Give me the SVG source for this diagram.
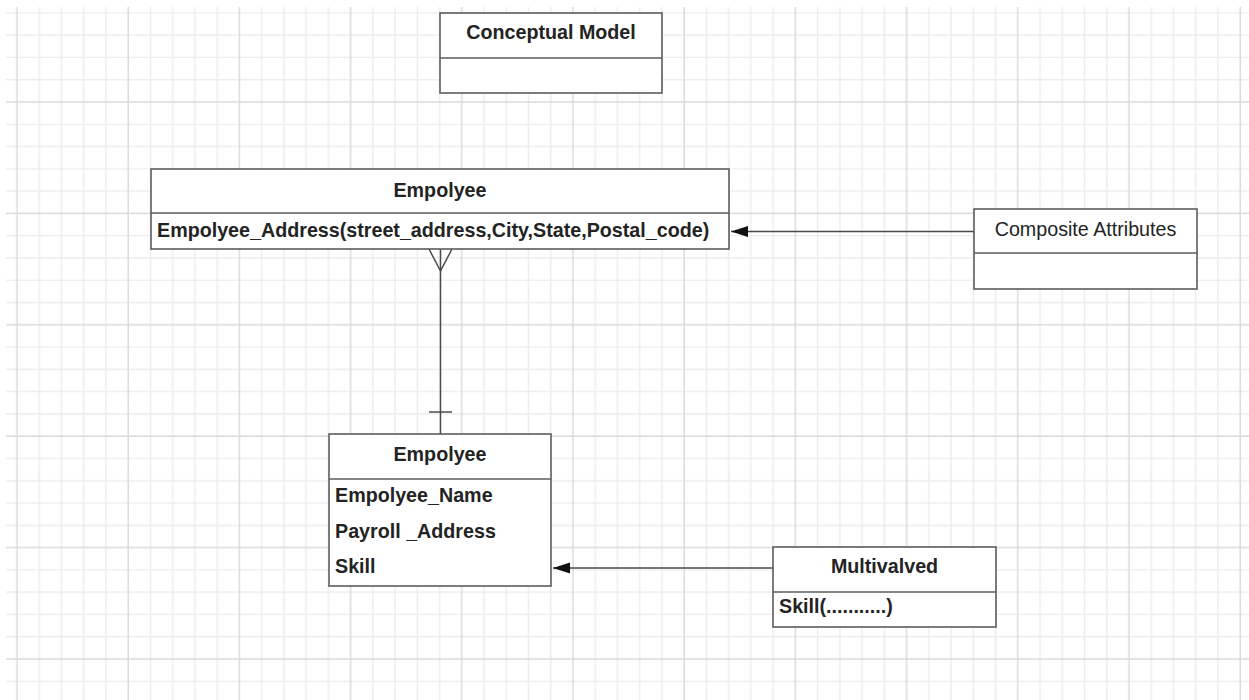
<svg xmlns="http://www.w3.org/2000/svg" width="1249" height="700" viewBox="0 0 1249 700">
  <style>
    .box { fill: #ffffff; stroke: #5c5c5c; stroke-width: 1.6; }
    .sep { stroke: #5c5c5c; stroke-width: 1.6; }
    .t { font-family: "Liberation Sans", Arial, sans-serif; font-size: 19.7px; fill: #232323; }
    .b { font-weight: bold; }
    .c { text-anchor: middle; }
    .edge { fill: none; stroke: #4a4a4a; stroke-width: 1.5; }
  </style>
  <defs>
    <!-- background grid: minor every 22.24/22.28 px, major every 5 cells -->
    <pattern id="grid" patternUnits="userSpaceOnUse" x="5.88" y="90.86" width="111.2" height="111.4">
      <g stroke="#ececec" stroke-width="1.4">
        <line x1="33.36" y1="0" x2="33.36" y2="111.4"/>
        <line x1="55.6" y1="0" x2="55.6" y2="111.4"/>
        <line x1="77.84" y1="0" x2="77.84" y2="111.4"/>
        <line x1="100.08" y1="0" x2="100.08" y2="111.4"/>
        <line x1="0" y1="33.42" x2="111.2" y2="33.42"/>
        <line x1="0" y1="55.7" x2="111.2" y2="55.7"/>
        <line x1="0" y1="77.98" x2="111.2" y2="77.98"/>
        <line x1="0" y1="100.26" x2="111.2" y2="100.26"/>
      </g>
      <g stroke="#d9d9d9" stroke-width="1.4">
        <line x1="11.12" y1="0" x2="11.12" y2="111.4"/>
        <line x1="0" y1="11.14" x2="111.2" y2="11.14"/>
      </g>
    </pattern>
    <marker id="arrow" markerUnits="userSpaceOnUse" markerWidth="20" markerHeight="14" viewBox="0 -7 20 14" refX="17" refY="0" orient="auto">
      <path d="M0,-5.5 L17,0 L0,5.5 z" fill="#111111"/>
    </marker>
  </defs>

  <rect x="0" y="0" width="1249" height="700" fill="#ffffff"/>
  <rect x="6" y="7" width="1243" height="693" fill="url(#grid)"/>

  <g id="connectors">
    <!-- composite attributes -> employee address -->
    <line class="edge" x1="974" y1="231.5" x2="731" y2="231.5" marker-end="url(#arrow)"/>
    <!-- multivalued -> skill -->
    <line class="edge" x1="773" y1="568" x2="553" y2="568" marker-end="url(#arrow)"/>
    <!-- one-to-many relationship between the two Empolyee entities -->
    <line class="edge" x1="440.5" y1="249" x2="440.5" y2="434"/>
    <path class="edge" d="M429,249 L440.5,271 L452,249"/>
    <line class="edge" x1="429" y1="412" x2="452" y2="412"/>
  </g>

  <g id="conceptual-model">
    <rect class="box" x="440" y="13" width="222" height="80"/>
    <line class="sep" x1="440" y1="58" x2="662" y2="58"/>
    <text class="t b c" x="551" y="39">Conceptual Model</text>
  </g>

  <g id="employee-address">
    <rect class="box" x="151" y="169" width="578" height="80"/>
    <line class="sep" x1="151" y1="213" x2="729" y2="213"/>
    <text class="t b c" x="440" y="197">Empolyee</text>
    <text class="t b" x="157" y="237">Empolyee_Address(street_address,City,State,Postal_code)</text>
  </g>

  <g id="composite-attributes">
    <rect class="box" x="974" y="209" width="223" height="80"/>
    <line class="sep" x1="974" y1="253" x2="1197" y2="253"/>
    <text class="t c" x="1085.5" y="236">Composite Attributes</text>
  </g>

  <g id="employee">
    <rect class="box" x="329" y="434" width="222" height="152"/>
    <line class="sep" x1="329" y1="479" x2="551" y2="479"/>
    <text class="t b c" x="440" y="461">Empolyee</text>
    <text class="t b" x="335" y="502">Empolyee_Name</text>
    <text class="t b" x="335" y="538">Payroll _Address</text>
    <text class="t b" x="335" y="573">Skill</text>
  </g>

  <g id="multivalved">
    <rect class="box" x="773" y="547" width="223" height="80"/>
    <line class="sep" x1="773" y1="592" x2="996" y2="592"/>
    <text class="t b c" x="884.5" y="573">Multivalved</text>
    <text class="t b" x="779" y="613">Skill(...........)</text>
  </g>
</svg>
